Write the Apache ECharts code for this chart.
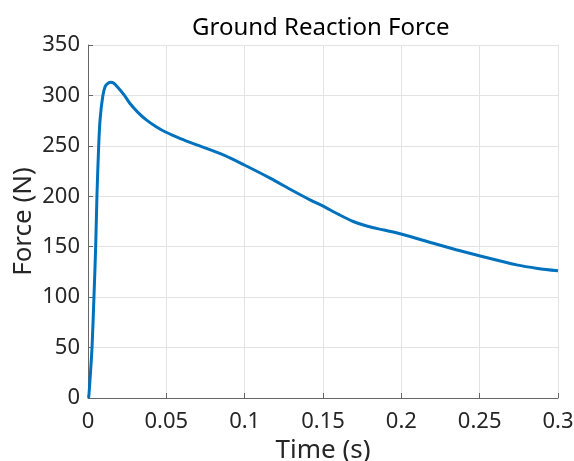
<!DOCTYPE html>
<html>
<head>
<meta charset="utf-8">
<script src="https://cdn.jsdelivr.net/npm/echarts@6/dist/echarts.min.js"></script>
<style>
html,body{margin:0;padding:0;background:#fff;}
#chart{width:574px;height:461px;}
</style>
</head>
<body>
<div id="chart"></div>
<script>
const timeS = [0, 0.0005, 0.0017, 0.0026, 0.0038, 0.0049, 0.0057, 0.0068, 0.0077, 0.0094, 0.011, 0.0128, 0.0145, 0.0165, 0.0187, 0.023, 0.0268, 0.0320, 0.0374, 0.0435, 0.0498, 0.0594, 0.0694, 0.0864, 0.0998, 0.1162, 0.1290, 0.1417, 0.1498, 0.1600, 0.1693, 0.1779, 0.1890, 0.1998, 0.2204, 0.2350, 0.2498, 0.2736, 0.2870, 0.3];
const forceN = [0, 1.5, 28, 51, 100, 150, 200, 249, 276, 299, 309, 312, 313, 312, 308.5, 300.5, 292, 283, 275.5, 269, 263.5, 257, 251, 241, 231, 218, 207, 196.5, 190.5, 182, 175, 170.5, 166.5, 162.6, 153.4, 147, 141, 132, 128.5, 126.2];
const titleText = 'Ground Reaction Force';
const xName = 'Time (s)';
const yName = 'Force (N)';

const FONT = '"Noto Sans", "DejaVu Sans", sans-serif';
const TXT = '#262626';
const AX = '#666666';
const GRID = '#e3e3e3';

const chart = echarts.init(document.getElementById('chart'), null, {renderer: 'canvas'});
chart.setOption({
  animation: false,
  backgroundColor: '#ffffff',
  title: {
    text: titleText,
    left: 187,
    top: 11,
    textStyle: {fontFamily: FONT, fontSize: 24, fontWeight: 'normal', color: '#000'}
  },
  grid: {left: 88, right: 16, top: 45, bottom: 63, outerBoundsMode: 'none', containLabel: false},
  xAxis: {
    type: 'value',
    min: 0, max: 0.3, interval: 0.05,
    name: xName,
    nameLocation: 'middle',
    nameGap: 31,
    nameTextStyle: {fontFamily: FONT, fontSize: 26, color: TXT},
    axisLine: {show: true, lineStyle: {color: AX, width: 1}},
    axisTick: {show: true, inside: true, length: 5, lineStyle: {color: AX}},
    axisLabel: {fontFamily: FONT, fontSize: 22, color: TXT, margin: 13},
    splitLine: {show: true, lineStyle: {color: GRID, width: 1}}
  },
  yAxis: {
    type: 'value',
    min: 0, max: 350, interval: 50,
    name: yName,
    nameLocation: 'middle',
    nameMoveOverlap: false,
    nameGap: 51,
    nameTextStyle: {fontFamily: FONT, fontSize: 26, color: TXT},
    axisLine: {show: true, lineStyle: {color: AX, width: 1}},
    axisTick: {show: true, inside: true, length: 5, lineStyle: {color: AX}},
    axisLabel: {fontFamily: FONT, fontSize: 22, color: TXT, margin: 8},
    splitLine: {show: true, lineStyle: {color: GRID, width: 1}}
  },
  series: [{
    type: 'line',
    data: timeS.map((t, i) => [t, forceN[i]]),
    showSymbol: false,
    smooth: 0.3,
    lineStyle: {color: '#0072BD', width: 3},
    itemStyle: {color: '#0072BD'}
  }]
});
</script>
</body>
</html>
